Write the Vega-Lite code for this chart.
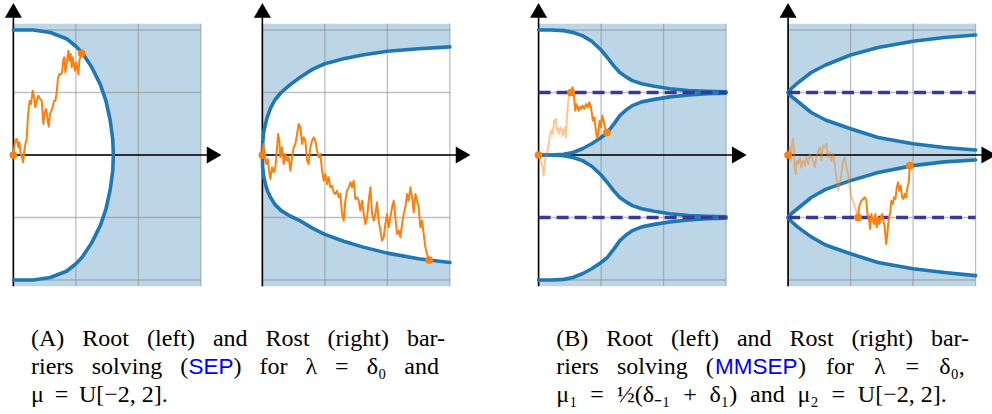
{
"$schema":"https://vega.github.io/schema/vega-lite/v6.json",
"padding":{"left":4,"top":0,"right":0,"bottom":0},
"background":"white",
"config":{"view":{"stroke":null},"axis":{"disable":true},"legend":{"disable":true},"line":{"strokeJoin":"round"}},
"datasets":{
"one":[{}],
"gt":[{"g":0},{"g":1},{"g":2},{"g":3}],
"gy":[{"g":-2},{"g":-1},{"g":0},{"g":1},{"g":2}],
"atoms":[{"v":-1},{"v":1}],
"root1":[{"k":0,"t":0,"y":2},{"k":1,"t":0.32,"y":2},{"k":2,"t":0.59,"y":1.96},{"k":3,"t":0.85,"y":1.86},{"k":4,"t":1.0,"y":1.74},{"k":5,"t":1.1,"y":1.635},{"k":6,"t":1.25,"y":1.41},{"k":7,"t":1.39,"y":1.13},{"k":8,"t":1.48,"y":0.87},{"k":9,"t":1.55,"y":0.55},{"k":10,"t":1.59,"y":0.25},{"k":11,"t":1.6,"y":0},{"k":12,"t":1.59,"y":-0.25},{"k":13,"t":1.55,"y":-0.55},{"k":14,"t":1.48,"y":-0.87},{"k":15,"t":1.39,"y":-1.13},{"k":16,"t":1.25,"y":-1.41},{"k":17,"t":1.1,"y":-1.635},{"k":18,"t":1.0,"y":-1.74},{"k":19,"t":0.85,"y":-1.86},{"k":20,"t":0.59,"y":-1.96},{"k":21,"t":0.32,"y":-2},{"k":22,"t":0,"y":-2}],
"rost1":[{"t":0,"up":0,"lo":0},{"t":0.005,"up":0.2,"lo":-0.2},{"t":0.02,"up":0.36,"lo":-0.34},{"t":0.05,"up":0.5,"lo":-0.47},{"t":0.08,"up":0.61,"lo":-0.57},{"t":0.13,"up":0.75,"lo":-0.68},{"t":0.2,"up":0.88,"lo":-0.79},{"t":0.3,"up":1.0,"lo":-0.89},{"t":0.45,"up":1.13,"lo":-0.98},{"t":0.6,"up":1.24,"lo":-1.05},{"t":0.8,"up":1.37,"lo":-1.17},{"t":1.0,"up":1.46,"lo":-1.27},{"t":1.3,"up":1.54,"lo":-1.38},{"t":1.6,"up":1.6,"lo":-1.47},{"t":2.0,"up":1.66,"lo":-1.57},{"t":2.5,"up":1.7,"lo":-1.66},{"t":3.0,"up":1.73,"lo":-1.72}],
"root2":[{"t":0,"uo":2,"ui":0,"li":0,"lo":-2},{"t":0.2,"uo":2,"ui":0,"li":0,"lo":-2},{"t":0.4,"uo":1.99,"ui":0.01,"li":-0.01,"lo":-1.99},{"t":0.55,"uo":1.96,"ui":0.04,"li":-0.04,"lo":-1.96},{"t":0.7,"uo":1.91,"ui":0.1,"li":-0.09,"lo":-1.9},{"t":0.85,"uo":1.82,"ui":0.18,"li":-0.18,"lo":-1.82},{"t":1.0,"uo":1.68,"ui":0.28,"li":-0.32,"lo":-1.72},{"t":1.1,"uo":1.56,"ui":0.36,"li":-0.44,"lo":-1.64},{"t":1.2,"uo":1.43,"ui":0.49,"li":-0.57,"lo":-1.51},{"t":1.3,"uo":1.32,"ui":0.63,"li":-0.68,"lo":-1.37},{"t":1.4,"uo":1.25,"ui":0.72,"li":-0.75,"lo":-1.28},{"t":1.5,"uo":1.19,"ui":0.79,"li":-0.81,"lo":-1.21},{"t":1.65,"uo":1.14,"ui":0.85,"li":-0.86,"lo":-1.15},{"t":1.85,"uo":1.1,"ui":0.89,"li":-0.9,"lo":-1.11},{"t":2.1,"uo":1.06,"ui":0.93,"li":-0.94,"lo":-1.07},{"t":2.4,"uo":1.03,"ui":0.96,"li":-0.97,"lo":-1.04},{"t":2.7,"uo":1.02,"ui":0.98,"li":-0.98,"lo":-1.02},{"t":3.0,"uo":1.01,"ui":0.99,"li":-0.99,"lo":-1.01}],
"rost2":[{"t":0,"a":1,"b":1,"c":-1,"d":-1},{"t":0.05,"a":1.06,"b":0.94,"c":-0.94,"d":-1.06},{"t":0.15,"a":1.15,"b":0.86,"c":-0.86,"d":-1.15},{"t":0.37,"a":1.32,"b":0.68,"c":-0.68,"d":-1.31},{"t":0.6,"a":1.44,"b":0.56,"c":-0.55,"d":-1.44},{"t":1.0,"a":1.6,"b":0.42,"c":-0.41,"d":-1.58},{"t":1.44,"a":1.72,"b":0.28,"c":-0.28,"d":-1.72},{"t":2.0,"a":1.82,"b":0.18,"c":-0.17,"d":-1.82},{"t":2.5,"a":1.88,"b":0.12,"c":-0.11,"d":-1.88},{"t":3.0,"a":1.92,"b":0.08,"c":-0.08,"d":-1.93}],
"w1":[{"t":0,"y":0,"ev":"start"},{"t":0.027,"y":0.229},{"t":0.053,"y":0.256},{"t":0.08,"y":0.123},{"t":0.096,"y":0.203},{"t":0.117,"y":0.016},{"t":0.139,"y":-0.037},{"t":0.155,"y":-0.117},{"t":0.171,"y":0.043},{"t":0.192,"y":0.176},{"t":0.213,"y":0.256},{"t":0.235,"y":0.656},{"t":0.261,"y":0.869},{"t":0.283,"y":0.816},{"t":0.309,"y":1.029},{"t":0.331,"y":0.923},{"t":0.352,"y":0.763},{"t":0.373,"y":0.869},{"t":0.4,"y":0.949},{"t":0.427,"y":0.896},{"t":0.453,"y":0.869},{"t":0.48,"y":0.496},{"t":0.501,"y":0.683},{"t":0.523,"y":0.736},{"t":0.544,"y":0.603},{"t":0.565,"y":0.453},{"t":0.587,"y":0.656},{"t":0.608,"y":0.709},{"t":0.629,"y":0.773},{"t":0.651,"y":0.869},{"t":0.672,"y":0.869},{"t":0.693,"y":1.003},{"t":0.715,"y":1.243},{"t":0.736,"y":1.296},{"t":0.757,"y":1.285},{"t":0.779,"y":1.323},{"t":0.8,"y":1.536},{"t":0.816,"y":1.563},{"t":0.832,"y":1.323},{"t":0.853,"y":1.456},{"t":0.88,"y":1.669},{"t":0.896,"y":1.509},{"t":0.917,"y":1.616},{"t":0.933,"y":1.403},{"t":0.949,"y":1.563},{"t":0.971,"y":1.429},{"t":0.987,"y":1.349},{"t":1.003,"y":1.483},{"t":1.024,"y":1.376},{"t":1.04,"y":1.285},{"t":1.056,"y":1.52},{"t":1.077,"y":1.573},{"t":1.093,"y":1.627,"ev":"stop"}],
"w2":[{"t":0,"y":0,"ev":"start"},{"t":0.021,"y":0.176},{"t":0.037,"y":-0.037},{"t":0.064,"y":-0.144},{"t":0.085,"y":-0.064},{"t":0.107,"y":-0.251},{"t":0.128,"y":-0.384},{"t":0.155,"y":-0.197},{"t":0.181,"y":-0.277},{"t":0.208,"y":-0.197},{"t":0.235,"y":0.123},{"t":0.251,"y":0.336},{"t":0.272,"y":0.229},{"t":0.288,"y":-0.037},{"t":0.315,"y":0.123},{"t":0.341,"y":-0.144},{"t":0.368,"y":0.016},{"t":0.395,"y":-0.091},{"t":0.421,"y":-0.037},{"t":0.448,"y":-0.251},{"t":0.475,"y":-0.037},{"t":0.501,"y":0.123},{"t":0.528,"y":0.176},{"t":0.555,"y":0.336},{"t":0.581,"y":0.496},{"t":0.608,"y":0.443},{"t":0.635,"y":0.176},{"t":0.661,"y":0.283},{"t":0.688,"y":0.229},{"t":0.715,"y":-0.091},{"t":0.741,"y":-0.144},{"t":0.768,"y":0.123},{"t":0.795,"y":0.229},{"t":0.821,"y":0.283},{"t":0.848,"y":0.229},{"t":0.875,"y":0.069},{"t":0.901,"y":-0.037},{"t":0.928,"y":0.016},{"t":0.955,"y":-0.251},{"t":0.981,"y":-0.411},{"t":1.008,"y":-0.304},{"t":1.035,"y":-0.464},{"t":1.061,"y":-0.357},{"t":1.088,"y":-0.517},{"t":1.115,"y":-0.491},{"t":1.141,"y":-0.597},{"t":1.168,"y":-0.624},{"t":1.195,"y":-0.571},{"t":1.221,"y":-0.677},{"t":1.248,"y":-0.624},{"t":1.275,"y":-0.944},{"t":1.301,"y":-1.051},{"t":1.328,"y":-0.731},{"t":1.355,"y":-0.571},{"t":1.381,"y":-0.517},{"t":1.408,"y":-0.437},{"t":1.435,"y":-0.517},{"t":1.461,"y":-0.411},{"t":1.488,"y":-0.704},{"t":1.515,"y":-0.677},{"t":1.541,"y":-0.731},{"t":1.568,"y":-0.891},{"t":1.595,"y":-0.731},{"t":1.621,"y":-0.944},{"t":1.648,"y":-1.104},{"t":1.675,"y":-0.997},{"t":1.701,"y":-0.731},{"t":1.728,"y":-0.517},{"t":1.755,"y":-0.944},{"t":1.781,"y":-1.051},{"t":1.808,"y":-0.944},{"t":1.835,"y":-0.757},{"t":1.861,"y":-1.051},{"t":1.888,"y":-1.211},{"t":1.915,"y":-1.371},{"t":1.941,"y":-1.317},{"t":1.968,"y":-1.104},{"t":1.995,"y":-0.944},{"t":2.021,"y":-1.157},{"t":2.048,"y":-0.997},{"t":2.075,"y":-0.837},{"t":2.101,"y":-0.731},{"t":2.128,"y":-0.997},{"t":2.155,"y":-1.264},{"t":2.181,"y":-1.211},{"t":2.208,"y":-1.317},{"t":2.235,"y":-1.104},{"t":2.261,"y":-0.944},{"t":2.288,"y":-0.837},{"t":2.315,"y":-0.624},{"t":2.341,"y":-0.731},{"t":2.368,"y":-0.517},{"t":2.395,"y":-0.677},{"t":2.421,"y":-0.917},{"t":2.448,"y":-0.624},{"t":2.475,"y":-0.731},{"t":2.501,"y":-0.837},{"t":2.528,"y":-1.157},{"t":2.555,"y":-1.051},{"t":2.581,"y":-1.264},{"t":2.608,"y":-1.477},{"t":2.635,"y":-1.584},{"t":2.667,"y":-1.68,"ev":"stop"}],
"w3":[{"t":0,"y":0,"s":"pre","ev":"start"},{"t":0.027,"y":-0.091,"s":"pre"},{"t":0.048,"y":-0.144,"s":"pre"},{"t":0.064,"y":-0.197,"s":"pre"},{"t":0.08,"y":-0.331,"s":"pre"},{"t":0.101,"y":-0.091,"s":"pre"},{"t":0.117,"y":-0.037,"s":"pre"},{"t":0.144,"y":0.069,"s":"pre"},{"t":0.171,"y":0.229,"s":"pre"},{"t":0.197,"y":0.389,"s":"pre"},{"t":0.224,"y":0.336,"s":"pre"},{"t":0.251,"y":0.549,"s":"pre"},{"t":0.277,"y":0.576,"s":"pre"},{"t":0.293,"y":0.389,"s":"pre"},{"t":0.315,"y":0.416,"s":"pre"},{"t":0.331,"y":0.336,"s":"pre"},{"t":0.347,"y":0.443,"s":"pre"},{"t":0.368,"y":0.416,"s":"pre"},{"t":0.384,"y":0.309,"s":"pre"},{"t":0.4,"y":0.389,"s":"pre"},{"t":0.421,"y":0.443,"s":"pre"},{"t":0.437,"y":0.283,"s":"pre"},{"t":0.453,"y":0.603,"s":"pre"},{"t":0.475,"y":0.869,"s":"pre"},{"t":0.496,"y":0.976,"s":"pre"},{"t":0.517,"y":1.0,"s":"pre"},
{"t":0.517,"y":1.0,"s":"post","ev":"hit"},{"t":0.544,"y":1.083,"s":"post"},{"t":0.56,"y":1.029,"s":"post"},{"t":0.571,"y":0.869,"s":"post"},{"t":0.587,"y":0.709,"s":"post"},{"t":0.603,"y":0.816,"s":"post"},{"t":0.624,"y":0.763,"s":"post"},{"t":0.64,"y":0.709,"s":"post"},{"t":0.656,"y":0.773,"s":"post"},{"t":0.677,"y":0.736,"s":"post"},{"t":0.704,"y":0.789,"s":"post"},{"t":0.731,"y":0.736,"s":"post"},{"t":0.757,"y":0.816,"s":"post"},{"t":0.784,"y":0.763,"s":"post"},{"t":0.811,"y":0.843,"s":"post"},{"t":0.837,"y":0.773,"s":"post"},{"t":0.853,"y":0.656,"s":"post"},{"t":0.869,"y":0.549,"s":"post"},{"t":0.891,"y":0.603,"s":"post"},{"t":0.912,"y":0.443,"s":"post"},{"t":0.933,"y":0.27,"s":"post"},{"t":0.955,"y":0.336,"s":"post"},{"t":0.976,"y":0.549,"s":"post"},{"t":0.997,"y":0.443,"s":"post"},{"t":1.019,"y":0.629,"s":"post"},{"t":1.04,"y":0.549,"s":"post"},{"t":1.061,"y":0.443,"s":"post"},{"t":1.093,"y":0.36,"s":"post","ev":"stop"}],
"w4":[{"t":0,"y":0,"s":"pre","ev":"start"},{"t":0.027,"y":0.123,"s":"pre"},{"t":0.043,"y":-0.091,"s":"pre"},{"t":0.064,"y":0.176,"s":"pre"},{"t":0.08,"y":0.256,"s":"pre"},{"t":0.096,"y":0.123,"s":"pre"},{"t":0.107,"y":-0.197,"s":"pre"},{"t":0.123,"y":-0.304,"s":"pre"},{"t":0.139,"y":-0.091,"s":"pre"},{"t":0.16,"y":-0.144,"s":"pre"},{"t":0.187,"y":-0.037,"s":"pre"},{"t":0.213,"y":-0.197,"s":"pre"},{"t":0.24,"y":-0.091,"s":"pre"},{"t":0.267,"y":-0.171,"s":"pre"},{"t":0.293,"y":-0.037,"s":"pre"},{"t":0.32,"y":-0.144,"s":"pre"},{"t":0.347,"y":0.016,"s":"pre"},{"t":0.373,"y":-0.037,"s":"pre"},{"t":0.4,"y":-0.091,"s":"pre"},{"t":0.427,"y":-0.197,"s":"pre"},{"t":0.453,"y":-0.037,"s":"pre"},{"t":0.48,"y":0.069,"s":"pre"},{"t":0.507,"y":0.123,"s":"pre"},{"t":0.533,"y":-0.091,"s":"pre"},{"t":0.56,"y":0.149,"s":"pre"},{"t":0.587,"y":0.123,"s":"pre"},{"t":0.613,"y":0.176,"s":"pre"},{"t":0.64,"y":-0.037,"s":"pre"},{"t":0.667,"y":0.043,"s":"pre"},{"t":0.693,"y":-0.091,"s":"pre"},{"t":0.72,"y":0.016,"s":"pre"},{"t":0.747,"y":-0.144,"s":"pre"},{"t":0.773,"y":-0.357,"s":"pre"},{"t":0.8,"y":-0.571,"s":"pre"},{"t":0.827,"y":-0.464,"s":"pre"},{"t":0.853,"y":-0.304,"s":"pre"},{"t":0.88,"y":-0.091,"s":"pre"},{"t":0.907,"y":-0.037,"s":"pre"},{"t":0.933,"y":-0.197,"s":"pre"},{"t":0.96,"y":-0.304,"s":"pre"},{"t":0.987,"y":-0.517,"s":"pre"},{"t":1.013,"y":-0.677,"s":"pre"},{"t":1.04,"y":-0.731,"s":"pre"},{"t":1.067,"y":-0.837,"s":"pre"},{"t":1.093,"y":-0.891,"s":"pre"},{"t":1.12,"y":-1.0,"s":"pre"},
{"t":1.12,"y":-1.0,"s":"post","ev":"hit"},{"t":1.136,"y":-0.837,"s":"post"},{"t":1.152,"y":-0.784,"s":"post"},{"t":1.173,"y":-0.731,"s":"post"},{"t":1.2,"y":-0.704,"s":"post"},{"t":1.227,"y":-0.677,"s":"post"},{"t":1.253,"y":-0.731,"s":"post"},{"t":1.269,"y":-0.944,"s":"post"},{"t":1.291,"y":-0.997,"s":"post"},{"t":1.312,"y":-1.184,"s":"post"},{"t":1.333,"y":-0.944,"s":"post"},{"t":1.355,"y":-1.051,"s":"post"},{"t":1.376,"y":-1.104,"s":"post"},{"t":1.397,"y":-0.944,"s":"post"},{"t":1.419,"y":-1.157,"s":"post"},{"t":1.44,"y":-0.997,"s":"post"},{"t":1.461,"y":-1.104,"s":"post"},{"t":1.483,"y":-0.997,"s":"post"},{"t":1.504,"y":-0.944,"s":"post"},{"t":1.525,"y":-1.051,"s":"post"},{"t":1.547,"y":-1.157,"s":"post"},{"t":1.568,"y":-1.424,"s":"post"},{"t":1.589,"y":-1.264,"s":"post"},{"t":1.611,"y":-0.997,"s":"post"},{"t":1.632,"y":-0.944,"s":"post"},{"t":1.653,"y":-0.731,"s":"post"},{"t":1.675,"y":-0.784,"s":"post"},{"t":1.696,"y":-0.677,"s":"post"},{"t":1.717,"y":-0.704,"s":"post"},{"t":1.739,"y":-0.517,"s":"post"},{"t":1.76,"y":-0.437,"s":"post"},{"t":1.781,"y":-0.571,"s":"post"},{"t":1.803,"y":-0.491,"s":"post"},{"t":1.824,"y":-0.677,"s":"post"},{"t":1.845,"y":-0.704,"s":"post"},{"t":1.867,"y":-0.624,"s":"post"},{"t":1.888,"y":-0.677,"s":"post"},{"t":1.909,"y":-0.517,"s":"post"},{"t":1.931,"y":-0.437,"s":"post"},{"t":1.947,"y":-0.171,"s":"post","ev":"stop"}],
"cap":[
{"cap":"A","line":1,"at":0,"kind":"rm","text":"(A) \u2002Root \u2002(left) \u2002and \u2002Rost \u2002(right) \u2002bar-"},
{"cap":"A","line":2,"at":0,"kind":"rm","text":"riers \u2002solving \u2002("},
{"cap":"A","line":2,"at":0.3823,"kind":"link","text":"SEP"},
{"cap":"A","line":2,"at":0.4915,"kind":"rm","text":") \u2002for \u2002λ \u2002= \u2002δ₀ \u2002and"},
{"cap":"A","line":3,"at":0,"kind":"rm","text":"μ \u2009= \u2009U[−2, 2]."},
{"cap":"B","line":1,"at":0,"kind":"rm","text":"(B) \u2002Root \u2002(left) \u2002and \u2002Rost \u2002(right) \u2002bar-"},
{"cap":"B","line":2,"at":0,"kind":"rm","text":"riers \u2002solving \u2002("},
{"cap":"B","line":2,"at":0.3864,"kind":"link","text":"MMSEP"},
{"cap":"B","line":2,"at":0.5885,"kind":"rm","text":") \u2002\u200afor \u2002\u200aλ \u2002\u200a= \u2002\u200aδ₀,"},
{"cap":"B","line":3,"at":0,"kind":"rm","text":"μ₁ \u2009\u200a= \u2009\u200a½(δ₋₁ \u2009\u200a+ \u2009\u200aδ₁) \u2009\u200aand \u2009\u200aμ₂ \u2009\u200a= \u2009\u200aU[−2, 2]."}
]
},
"spacing":58.2,
"hconcat":[
{"spacing":10,"vconcat":[
{"spacing":31,"hconcat":[
{"width":217.5,"height":288.125,"layer":[
{"data":{"name":"one"},"mark":{"type":"rect","color":"#bcd6e8"},"encoding":{"x":{"datum":0,"type":"quantitative","scale":{"domain":[-0.15,3.33],"nice":false,"zero":false}},"x2":{"datum":3},"y":{"datum":-2.1,"type":"quantitative","scale":{"domain":[-2.13,2.48],"nice":false,"zero":false}},"y2":{"datum":2.1}}},
{"data":{"name":"root1"},"transform":[{"filter":"datum.t > 0"}],"mark":{"type":"area","color":"white","orient":"horizontal","opacity":1},"encoding":{"y":{"field":"y","type":"quantitative"},"x":{"field":"t","type":"quantitative"},"x2":{"datum":0}}},
{"data":{"name":"gt"},"mark":{"type":"rule","color":"#8a8a8a","opacity":0.55,"strokeWidth":1.3},"encoding":{"x":{"field":"g","type":"quantitative"},"y":{"datum":-2.1},"y2":{"datum":2.1}}},
{"data":{"name":"gy"},"mark":{"type":"rule","color":"#8a8a8a","opacity":0.55,"strokeWidth":1.3},"encoding":{"y":{"field":"g","type":"quantitative"},"x":{"datum":0},"x2":{"datum":3}}},
{"data":{"name":"one"},"mark":{"type":"rule","color":"black","strokeWidth":1.6},"encoding":{"x":{"datum":0},"x2":{"datum":3.12},"y":{"datum":0}}},
{"data":{"name":"one"},"mark":{"type":"rule","color":"black","strokeWidth":1.6},"encoding":{"x":{"datum":0},"y":{"datum":-2.1},"y2":{"datum":2.2}}},
{"data":{"name":"root1"},"mark":{"type":"line","color":"#1f77b4","strokeWidth":3.6,"strokeCap":"round"},"encoding":{"x":{"field":"t","type":"quantitative"},"y":{"field":"y","type":"quantitative"},"order":{"field":"k","type":"quantitative"}}},
{"data":{"name":"w1"},"mark":{"type":"line","color":"#ff7f0e","strokeWidth":2},"encoding":{"x":{"field":"t","type":"quantitative"},"y":{"field":"y","type":"quantitative"}}},
{"data":{"name":"w1"},"transform":[{"filter":"isValid(datum.ev)"}],"mark":{"type":"circle","color":"#ff7f0e","size":60,"opacity":1},"encoding":{"x":{"field":"t","type":"quantitative"},"y":{"field":"y","type":"quantitative"}}},
{"data":{"name":"one"},"mark":{"type":"point","shape":"triangle-right","filled":true,"color":"black","size":290,"opacity":1,"clip":true},"encoding":{"x":{"datum":3.212},"y":{"datum":0}}},
{"data":{"name":"one"},"mark":{"type":"point","shape":"triangle-up","filled":true,"color":"black","size":290,"opacity":1},"encoding":{"x":{"datum":0},"y":{"datum":2.314}}}
]},
{"width":217.5,"height":288.125,"layer":[
{"data":{"name":"one"},"mark":{"type":"rect","color":"#bcd6e8"},"encoding":{"x":{"datum":0,"type":"quantitative","scale":{"domain":[-0.15,3.33],"nice":false,"zero":false}},"x2":{"datum":3},"y":{"datum":-2.1,"type":"quantitative","scale":{"domain":[-2.13,2.48],"nice":false,"zero":false}},"y2":{"datum":2.1}}},
{"data":{"name":"rost1"},"mark":{"type":"area","color":"white","opacity":1},"encoding":{"x":{"field":"t","type":"quantitative"},"y":{"field":"up","type":"quantitative"},"y2":{"field":"lo"}}},
{"data":{"name":"gt"},"mark":{"type":"rule","color":"#8a8a8a","opacity":0.55,"strokeWidth":1.3},"encoding":{"x":{"field":"g","type":"quantitative"},"y":{"datum":-2.1},"y2":{"datum":2.1}}},
{"data":{"name":"gy"},"mark":{"type":"rule","color":"#8a8a8a","opacity":0.55,"strokeWidth":1.3},"encoding":{"y":{"field":"g","type":"quantitative"},"x":{"datum":0},"x2":{"datum":3}}},
{"data":{"name":"one"},"mark":{"type":"rule","color":"black","strokeWidth":1.6},"encoding":{"x":{"datum":0},"x2":{"datum":3.12},"y":{"datum":0}}},
{"data":{"name":"one"},"mark":{"type":"rule","color":"black","strokeWidth":1.6},"encoding":{"x":{"datum":0},"y":{"datum":-2.1},"y2":{"datum":2.2}}},
{"data":{"name":"rost1"},"transform":[{"fold":["up","lo"]}],"mark":{"type":"line","color":"#1f77b4","strokeWidth":3.6,"strokeCap":"round"},"encoding":{"x":{"field":"t","type":"quantitative"},"y":{"field":"value","type":"quantitative"},"detail":{"field":"key"}}},
{"data":{"name":"w2"},"mark":{"type":"line","color":"#ff7f0e","strokeWidth":2},"encoding":{"x":{"field":"t","type":"quantitative"},"y":{"field":"y","type":"quantitative"}}},
{"data":{"name":"w2"},"transform":[{"filter":"isValid(datum.ev)"}],"mark":{"type":"circle","color":"#ff7f0e","size":60,"opacity":1},"encoding":{"x":{"field":"t","type":"quantitative"},"y":{"field":"y","type":"quantitative"}}},
{"data":{"name":"one"},"mark":{"type":"point","shape":"triangle-right","filled":true,"color":"black","size":290,"opacity":1,"clip":true},"encoding":{"x":{"datum":3.212},"y":{"datum":0}}},
{"data":{"name":"one"},"mark":{"type":"point","shape":"triangle-up","filled":true,"color":"black","size":290,"opacity":1},"encoding":{"x":{"datum":0},"y":{"datum":2.314}}}
]}
]},
{"width":466,"height":112,"data":{"name":"cap"},"transform":[{"filter":"datum.cap == 'A'"}],"encoding":{"x":{"field":"at","type":"quantitative","scale":{"domain":[-0.0655,1.0655],"nice":false,"zero":false}},"y":{"field":"line","type":"quantitative","scale":{"domain":[-0.658,3.306],"reverse":true,"nice":false,"zero":false}},"text":{"field":"text"}},"layer":[
{"transform":[{"filter":"datum.kind == 'rm'"}],"mark":{"type":"text","align":"left","baseline":"alphabetic","font":"Liberation Serif, Times New Roman, serif","fontSize":24,"color":"black"}},
{"transform":[{"filter":"datum.kind == 'link'"}],"mark":{"type":"text","align":"left","baseline":"alphabetic","font":"Liberation Sans, Arial, sans-serif","fontSize":22.5,"color":"#0000ff"}}
]}
]},
{"spacing":10,"vconcat":[
{"spacing":31.5,"hconcat":[
{"width":217.5,"height":288.125,"layer":[
{"data":{"name":"one"},"mark":{"type":"rect","color":"#bcd6e8"},"encoding":{"x":{"datum":0,"type":"quantitative","scale":{"domain":[-0.15,3.33],"nice":false,"zero":false}},"x2":{"datum":3},"y":{"datum":-2.1,"type":"quantitative","scale":{"domain":[-2.13,2.48],"nice":false,"zero":false}},"y2":{"datum":2.1}}},
{"data":{"name":"root2"},"mark":{"type":"area","color":"white","opacity":1},"encoding":{"x":{"field":"t","type":"quantitative"},"y":{"field":"uo","type":"quantitative"},"y2":{"field":"ui"}}},
{"data":{"name":"root2"},"mark":{"type":"area","color":"white","opacity":1},"encoding":{"x":{"field":"t","type":"quantitative"},"y":{"field":"li","type":"quantitative"},"y2":{"field":"lo"}}},
{"data":{"name":"gt"},"mark":{"type":"rule","color":"#8a8a8a","opacity":0.55,"strokeWidth":1.3},"encoding":{"x":{"field":"g","type":"quantitative"},"y":{"datum":-2.1},"y2":{"datum":2.1}}},
{"data":{"name":"gy"},"mark":{"type":"rule","color":"#8a8a8a","opacity":0.55,"strokeWidth":1.3},"encoding":{"y":{"field":"g","type":"quantitative"},"x":{"datum":0},"x2":{"datum":3}}},
{"data":{"name":"one"},"mark":{"type":"rule","color":"black","strokeWidth":1.6},"encoding":{"x":{"datum":0},"x2":{"datum":3.12},"y":{"datum":0}}},
{"data":{"name":"one"},"mark":{"type":"rule","color":"black","strokeWidth":1.6},"encoding":{"x":{"datum":0},"y":{"datum":-2.1},"y2":{"datum":2.2}}},
{"data":{"name":"root2"},"transform":[{"fold":["uo","ui","li","lo"]}],"mark":{"type":"line","color":"#1f77b4","strokeWidth":3.6,"strokeCap":"round"},"encoding":{"x":{"field":"t","type":"quantitative"},"y":{"field":"value","type":"quantitative"},"detail":{"field":"key"}}},
{"data":{"name":"atoms"},"mark":{"type":"rule","color":"#38389c","strokeWidth":3.5,"strokeDash":[12,6]},"encoding":{"y":{"field":"v","type":"quantitative"},"x":{"datum":0},"x2":{"datum":3}}},
{"data":{"name":"w3"},"transform":[{"filter":"datum.s == 'pre'"}],"mark":{"type":"line","color":"#ff7f0e","strokeWidth":2,"opacity":0.45},"encoding":{"x":{"field":"t","type":"quantitative"},"y":{"field":"y","type":"quantitative"}}},
{"data":{"name":"w3"},"transform":[{"filter":"datum.s == 'post'"}],"mark":{"type":"line","color":"#ff7f0e","strokeWidth":2},"encoding":{"x":{"field":"t","type":"quantitative"},"y":{"field":"y","type":"quantitative"}}},
{"data":{"name":"w3"},"transform":[{"filter":"isValid(datum.ev)"}],"mark":{"type":"circle","color":"#ff7f0e","size":60,"opacity":1},"encoding":{"x":{"field":"t","type":"quantitative"},"y":{"field":"y","type":"quantitative"}}},
{"data":{"name":"one"},"mark":{"type":"point","shape":"triangle-right","filled":true,"color":"black","size":290,"opacity":1,"clip":true},"encoding":{"x":{"datum":3.212},"y":{"datum":0}}},
{"data":{"name":"one"},"mark":{"type":"point","shape":"triangle-up","filled":true,"color":"black","size":290,"opacity":1},"encoding":{"x":{"datum":0},"y":{"datum":2.314}}}
]},
{"width":214.375,"height":288.125,"layer":[
{"data":{"name":"one"},"mark":{"type":"rect","color":"#bcd6e8"},"encoding":{"x":{"datum":0,"type":"quantitative","scale":{"domain":[-0.15,3.28],"nice":false,"zero":false}},"x2":{"datum":3},"y":{"datum":-2.1,"type":"quantitative","scale":{"domain":[-2.13,2.48],"nice":false,"zero":false}},"y2":{"datum":2.1}}},
{"data":{"name":"rost2"},"mark":{"type":"area","color":"white","opacity":1},"encoding":{"x":{"field":"t","type":"quantitative"},"y":{"field":"a","type":"quantitative"},"y2":{"field":"b"}}},
{"data":{"name":"rost2"},"mark":{"type":"area","color":"white","opacity":1},"encoding":{"x":{"field":"t","type":"quantitative"},"y":{"field":"c","type":"quantitative"},"y2":{"field":"d"}}},
{"data":{"name":"gt"},"mark":{"type":"rule","color":"#8a8a8a","opacity":0.55,"strokeWidth":1.3},"encoding":{"x":{"field":"g","type":"quantitative"},"y":{"datum":-2.1},"y2":{"datum":2.1}}},
{"data":{"name":"gy"},"mark":{"type":"rule","color":"#8a8a8a","opacity":0.55,"strokeWidth":1.3},"encoding":{"y":{"field":"g","type":"quantitative"},"x":{"datum":0},"x2":{"datum":3}}},
{"data":{"name":"one"},"mark":{"type":"rule","color":"black","strokeWidth":1.6},"encoding":{"x":{"datum":0},"x2":{"datum":3.12},"y":{"datum":0}}},
{"data":{"name":"one"},"mark":{"type":"rule","color":"black","strokeWidth":1.6},"encoding":{"x":{"datum":0},"y":{"datum":-2.1},"y2":{"datum":2.2}}},
{"data":{"name":"rost2"},"transform":[{"fold":["a","b","c","d"]}],"mark":{"type":"line","color":"#1f77b4","strokeWidth":3.6,"strokeCap":"round"},"encoding":{"x":{"field":"t","type":"quantitative"},"y":{"field":"value","type":"quantitative"},"detail":{"field":"key"}}},
{"data":{"name":"atoms"},"mark":{"type":"rule","color":"#38389c","strokeWidth":3.5,"strokeDash":[12,6]},"encoding":{"y":{"field":"v","type":"quantitative"},"x":{"datum":0},"x2":{"datum":3}}},
{"data":{"name":"w4"},"transform":[{"filter":"datum.s == 'pre'"}],"mark":{"type":"line","color":"#ff7f0e","strokeWidth":2,"opacity":0.45},"encoding":{"x":{"field":"t","type":"quantitative"},"y":{"field":"y","type":"quantitative"}}},
{"data":{"name":"w4"},"transform":[{"filter":"datum.s == 'post'"}],"mark":{"type":"line","color":"#ff7f0e","strokeWidth":2},"encoding":{"x":{"field":"t","type":"quantitative"},"y":{"field":"y","type":"quantitative"}}},
{"data":{"name":"w4"},"transform":[{"filter":"isValid(datum.ev)"}],"mark":{"type":"circle","color":"#ff7f0e","size":60,"opacity":1},"encoding":{"x":{"field":"t","type":"quantitative"},"y":{"field":"y","type":"quantitative"}}},
{"data":{"name":"one"},"mark":{"type":"point","shape":"triangle-right","filled":true,"color":"black","size":290,"opacity":1,"clip":true},"encoding":{"x":{"datum":3.212},"y":{"datum":0}}},
{"data":{"name":"one"},"mark":{"type":"point","shape":"triangle-up","filled":true,"color":"black","size":290,"opacity":1},"encoding":{"x":{"datum":0},"y":{"datum":2.314}}}
]}
]},
{"width":463.375,"height":112,"data":{"name":"cap"},"transform":[{"filter":"datum.cap == 'B'"}],"encoding":{"x":{"field":"at","type":"quantitative","scale":{"domain":[-0.066,1.0623],"nice":false,"zero":false}},"y":{"field":"line","type":"quantitative","scale":{"domain":[-0.658,3.306],"reverse":true,"nice":false,"zero":false}},"text":{"field":"text"}},"layer":[
{"transform":[{"filter":"datum.kind == 'rm'"}],"mark":{"type":"text","align":"left","baseline":"alphabetic","font":"Liberation Serif, Times New Roman, serif","fontSize":24,"color":"black"}},
{"transform":[{"filter":"datum.kind == 'link'"}],"mark":{"type":"text","align":"left","baseline":"alphabetic","font":"Liberation Sans, Arial, sans-serif","fontSize":22.5,"color":"#0000ff"}}
]}
]}
]
}
